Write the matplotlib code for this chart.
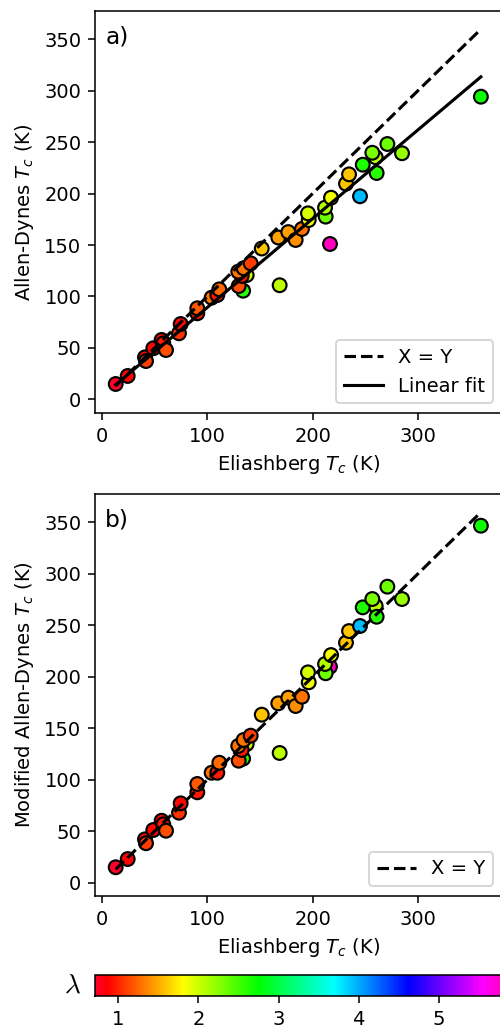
import numpy as np
import matplotlib
matplotlib.use("Agg")
import matplotlib.pyplot as plt
from matplotlib.colors import Normalize
from matplotlib.cm import ScalarMappable

# Eliashberg Tc (K)
tc_eliashberg = [216.5, 137.4, 134.0, 259.9,
                 13.0, 24.4, 40.8, 41.8, 48.7, 56.6, 58.2, 60.8, 73.1, 74.7,
                 90.5, 90.5, 104.1, 109.5, 111.4, 129.8, 132.7, 129.4,
                 134.5, 141.2, 151.7, 167.4, 168.7, 176.9, 183.9, 189.9, 196.3, 195.6,
                 212.4, 211.8, 217.5, 231.7, 234.6, 245.0, 247.6, 260.8, 256.7,
                 271.0, 284.9, 359.8]
# Allen-Dynes Tc (K)
tc_allen_dynes = [151.0, 120.8, 105.6, 235.3,
                  14.9, 22.7, 40.8, 37.2, 49.6, 57.7, 54.4, 47.9, 64.2, 73.2,
                  83.6, 88.5, 98.8, 101.4, 106.9, 110.1, 119.9, 124.1,
                  127.4, 132.2, 146.6, 157.3, 110.9, 162.6, 154.9, 165.6, 174.3, 180.8,
                  177.6, 186.3, 196.0, 209.6, 218.7, 197.4, 228.1, 220.0, 239.7,
                  248.2, 239.2, 294.2]
# Modified Allen-Dynes Tc (K)
tc_modified_ad = [209.8, 134.7, 120.5, 268.7,
                  15.0, 23.0, 42.1, 38.3, 51.2, 60.2, 56.7, 50.5, 68.0, 77.1,
                  87.8, 95.9, 106.8, 106.8, 116.5, 118.5, 128.9, 132.8,
                  138.6, 142.8, 163.2, 174.2, 126.0, 179.7, 171.6, 180.6, 194.6, 204.3,
                  203.4, 212.4, 221.1, 233.1, 244.4, 249.3, 267.4, 258.3, 275.5,
                  287.5, 275.5, 346.7]
# electron-phonon coupling constant lambda
coupling = [5.80, 2.00, 2.60, 2.05,
            0.71, 0.85, 0.90, 1.10, 0.90, 0.90, 0.95, 1.15, 1.05, 0.90,
            0.95, 1.20, 1.30, 0.95, 1.25, 1.15, 0.95, 1.30,
            1.30, 1.10, 1.60, 1.45, 2.05, 1.45, 1.40, 1.30, 1.85, 1.95,
            2.35, 2.10, 1.85, 1.60, 1.60, 3.95, 2.65, 2.60, 2.30,
            2.35, 2.20, 2.70]
# linear fit of Allen-Dynes Tc against Eliashberg Tc
fit_slope = 0.863
fit_intercept = 3.0

x = np.array(tc_eliashberg)
ya = np.array(tc_allen_dynes)
yb = np.array(tc_modified_ad)
lam = np.array(coupling)

W, H, DPI = 500, 1027, 140
fig = plt.figure(figsize=(W / DPI, H / DPI), dpi=DPI)
plt.rcParams["font.family"] = ["DejaVu Sans"]

cmap = plt.get_cmap("gist_rainbow")
norm = Normalize(vmin=lam.min(), vmax=lam.max())


def px_axes(left, top, right, bottom):
    return fig.add_axes([left / W, 1 - bottom / H, (right - left) / W, (bottom - top) / H])


ax_a = px_axes(95, 11, 503, 413)
ax_b = px_axes(95, 494, 503, 896)
cax = px_axes(95, 975, 503, 996)

xline = np.array([x.min(), x.max()])
marker_kw = dict(cmap=cmap, norm=norm, s=50, edgecolors="black", linewidths=1.1, zorder=2)

# panel a: Allen-Dynes vs Eliashberg
ax_a.scatter(x, ya, c=lam, **marker_kw)
ax_a.plot(xline, xline, "k--", lw=1.6, label="X = Y", zorder=3)
ax_a.plot(xline, fit_slope * xline + fit_intercept, "k-", lw=1.6, label="Linear fit", zorder=3)
ax_a.set_ylabel("Allen-Dynes $T_c$ (K)")
ax_a.legend(loc="lower right")
ax_a.text(0.025, 0.965, "a)", transform=ax_a.transAxes, fontsize=12, ha="left", va="top")

# panel b: modified Allen-Dynes vs Eliashberg
ax_b.scatter(x, yb, c=lam, **marker_kw)
ax_b.plot(xline, xline, "k--", lw=1.6, label="X = Y", zorder=3)
ax_b.set_ylabel("Modified Allen-Dynes $T_c$ (K)")
ax_b.legend(loc="lower right")
ax_b.text(0.025, 0.965, "b)", transform=ax_b.transAxes, fontsize=12, ha="left", va="top")

for ax, ylim in ((ax_a, (-13.3, 377.5)), (ax_b, (-12.9, 377.5))):
    ax.set_xlim(-6.65, 380.8)
    ax.set_ylim(*ylim)
    ax.set_xticks([0, 100, 200, 300])
    ax.set_yticks(np.arange(0, 351, 50))
    ax.set_xlabel("Eliashberg $T_c$ (K)")

cb = fig.colorbar(ScalarMappable(norm=norm, cmap=cmap), cax=cax, orientation="horizontal")
cb.set_ticks([1, 2, 3, 4, 5])
cax.text(-0.035, 0.5, r"$\lambda$", transform=cax.transAxes, ha="right", va="center",
         fontsize=14, math_fontfamily="cm")

fig.savefig("out.png", dpi=DPI)
